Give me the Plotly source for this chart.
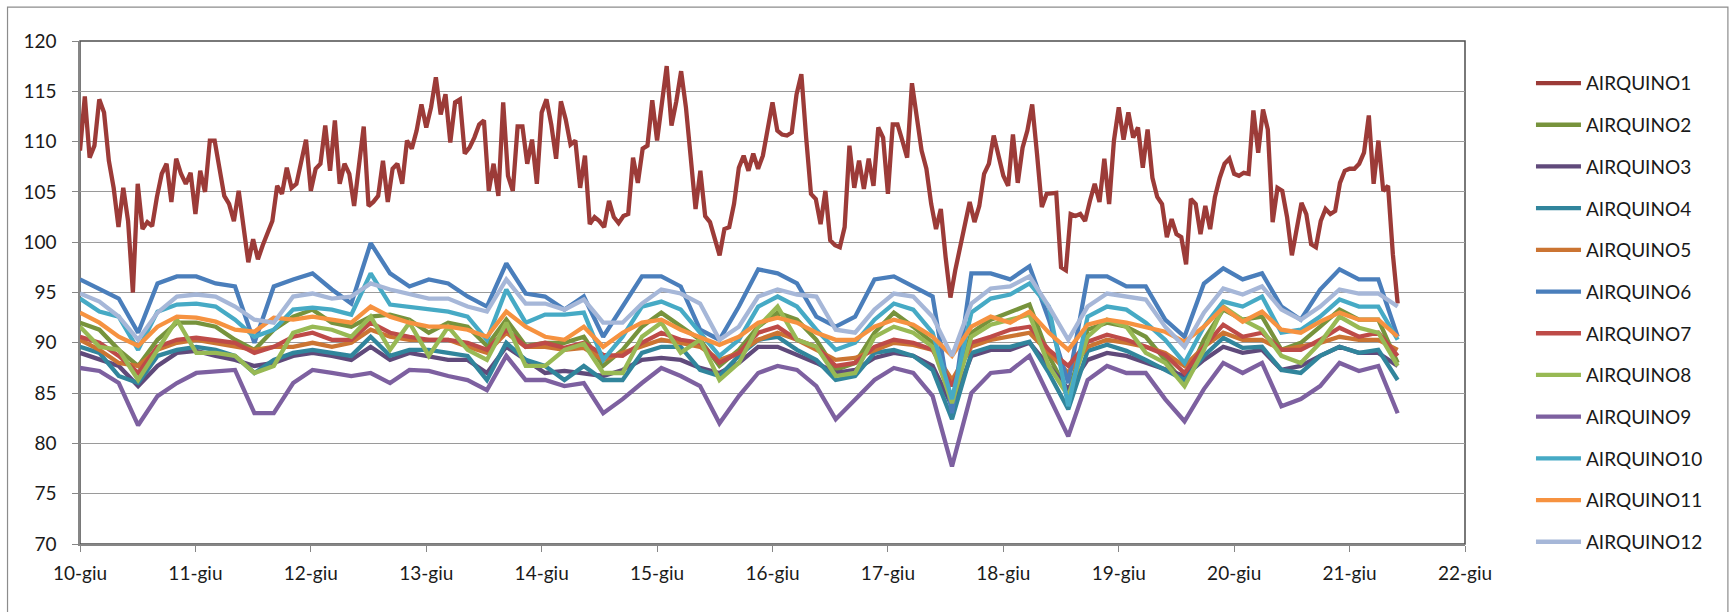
import numpy as np
import pandas as pd
import plotly.graph_objects as go

# ---------------- data ----------------
start = pd.Timestamp("2013-06-10 00:00")

tick_dates = ["2013-06-10", "2013-06-11", "2013-06-12", "2013-06-13", "2013-06-14",
              "2013-06-15", "2013-06-16", "2013-06-17", "2013-06-18", "2013-06-19",
              "2013-06-20", "2013-06-21", "2013-06-22"]
tick_labels = ["10-giu", "11-giu", "12-giu", "13-giu", "14-giu", "15-giu", "16-giu",
               "17-giu", "18-giu", "19-giu", "20-giu", "21-giu", "22-giu"]

# AIRQUINO1: hourly readings
airquino1 = [
    109.1, 114.5, 108.4, 109.6, 114.2, 112.9, 108.1, 105.4, 101.5, 105.4,
    102.1, 95.0, 105.8, 101.3, 102.0, 101.6, 104.5, 106.8, 107.8, 104.0,
    108.3, 106.8, 105.8, 106.9, 102.8, 107.1, 105.0, 110.1, 110.1, 107.4,
    104.6, 103.8, 102.1, 105.1, 101.5, 98.0, 100.3, 98.3, 99.7, 100.8,
    102.1, 105.6, 104.8, 107.4, 105.4, 105.8, 107.8, 110.2, 105.1, 107.3,
    107.8, 111.6, 107.1, 112.1, 105.8, 107.8, 106.8, 103.6, 107.6, 111.5,
    103.6, 104.0, 104.6, 108.1, 104.0, 107.3, 107.8, 105.8, 110.1, 109.3,
    111.1, 113.7,
    111.4, 113.4, 116.4, 112.7, 114.7, 109.9, 113.9, 114.2, 108.8, 109.4,
    110.4, 111.7, 112.1, 105.1, 107.8, 104.6, 113.9, 106.6, 105.1, 111.5,
    111.5, 107.8, 110.2, 105.8, 112.9, 114.2, 111.7, 108.3, 114.0, 112.2,
    109.7, 110.1, 105.4, 108.6, 101.8, 102.5, 102.1, 101.5, 104.1, 102.5,
    101.9, 102.6, 102.8, 108.4, 105.9, 109.3, 109.6, 114.1, 110.1, 113.7,
    117.5, 111.6, 114.0, 117.0, 113.4, 108.4, 103.3, 107.1, 102.6, 102.0,
    100.2, 98.7, 101.3, 101.5, 103.8, 107.4, 108.6, 107.1, 108.8, 107.3,
    108.6, 111.1, 113.9, 111.1,
    110.7, 110.6, 110.9, 114.7, 116.7, 110.4, 104.8, 104.3, 101.8, 105.1,
    100.2, 99.7, 99.5, 101.5, 109.6, 105.4, 108.1, 105.3, 108.3, 105.6,
    111.4, 110.4, 104.8, 111.7, 111.7, 110.1, 108.4, 115.8, 112.1, 109.1,
    107.3, 103.8, 101.3, 103.3, 98.5, 94.5, 97.2, 99.5, 101.5, 104.0,
    102.0, 103.6, 106.8, 107.8, 110.6, 108.4, 106.6, 105.6, 110.7, 105.9,
    109.4, 111.1, 113.7, 108.8, 103.5, 104.8, 104.8, 104.9, 97.5, 97.2,
    102.8, 102.6, 102.8, 102.1, 104.1, 105.8, 104.0, 108.3, 103.8, 110.1,
    113.4, 110.2, 112.9,
    110.4, 111.4, 107.4, 111.2, 106.4, 104.5, 103.8, 100.5, 102.3, 100.8,
    100.5, 97.8, 104.3, 103.8, 100.8, 103.6, 101.3, 104.5, 106.4, 107.8,
    108.3, 106.8, 106.6, 106.9, 106.8, 113.1, 108.9, 113.2, 111.2, 102.0,
    105.4, 105.1, 102.5, 98.7, 101.5, 103.9, 102.8, 99.8, 99.5, 102.1,
    103.3, 102.8, 103.1, 105.9, 107.1, 107.3, 107.3, 107.8, 108.9, 112.6,
    105.8, 110.1, 105.1, 105.6, 98.8, 93.9,
]

# AIRQUINO2..12: readings about every 4 hours over the same span
airquino2 = [92.0, 91.3, 89.3, 87.7, 90.3, 92.0, 92.0, 91.6, 90.3, 89.3, 91.3, 92.6, 93.3, 92.0, 91.6, 92.6, 92.8, 92.3, 91.0, 92.0, 91.6, 89.7, 92.3, 89.7,
             90.0, 90.0, 90.6, 87.7, 89.3, 91.6, 93.0, 91.6, 90.3, 87.7, 89.3, 91.6, 93.0, 92.3, 90.3, 87.3, 88.0, 91.0, 93.0, 91.6, 90.0, 84.4, 91.0,
             92.3, 93.0, 93.8, 88.7, 85.0, 91.3, 92.0, 91.6, 90.6, 88.3, 86.0, 90.3, 93.3, 92.3, 92.6, 89.3, 90.0, 91.6, 93.3, 92.3, 92.3, 88.0]
airquino3 = [89.0, 88.3, 87.7, 85.7, 87.7, 89.0, 89.2, 88.7, 88.3, 87.7, 88.0, 88.7, 89.0, 88.7, 88.3, 89.6, 88.3, 89.0, 88.7, 88.3, 88.3, 87.0, 89.6, 88.3,
             87.0, 87.2, 87.0, 86.7, 87.3, 88.3, 88.5, 88.3, 87.5, 87.0, 88.0, 89.6, 89.6, 88.8, 88.0, 87.0, 87.3, 88.5, 89.0, 88.7, 87.7, 83.7, 88.7,
             89.3, 89.3, 90.0, 87.7, 85.4, 88.3, 89.0, 88.7, 88.0, 87.3, 86.7, 88.3, 89.6, 89.0, 89.3, 87.3, 87.7, 88.7, 89.6, 89.0, 89.0, 87.7]
airquino4 = [89.6, 89.0, 86.7, 86.0, 88.7, 89.3, 89.6, 89.3, 88.7, 87.0, 88.3, 89.0, 89.3, 89.0, 88.7, 90.6, 88.7, 89.3, 89.3, 89.0, 88.7, 86.3, 90.0, 88.3,
             87.7, 86.3, 87.7, 86.3, 86.3, 89.0, 89.6, 89.6, 87.3, 86.7, 88.7, 90.3, 90.6, 89.3, 88.3, 86.3, 86.7, 89.0, 89.3, 88.7, 87.3, 82.4, 89.0,
             89.6, 89.6, 90.1, 87.0, 83.4, 89.2, 89.8, 89.2, 88.3, 87.3, 86.3, 88.7, 90.5, 89.5, 89.6, 87.3, 87.0, 88.7, 89.6, 89.0, 89.3, 86.3]
airquino5 = [90.3, 89.3, 88.0, 87.7, 89.3, 90.0, 90.3, 90.0, 89.6, 89.3, 89.6, 89.6, 90.0, 89.6, 90.0, 91.3, 90.6, 90.3, 90.3, 90.3, 89.6, 89.0, 91.0, 89.6,
             89.6, 89.3, 89.5, 88.3, 89.0, 89.6, 90.3, 90.0, 89.6, 88.3, 89.0, 90.3, 91.0, 90.3, 89.3, 88.3, 88.5, 89.3, 90.0, 89.8, 89.3, 86.3, 89.6,
             90.3, 90.6, 91.0, 89.0, 87.0, 89.6, 90.3, 90.0, 89.6, 89.0, 87.7, 89.6, 91.0, 90.3, 90.3, 89.3, 89.6, 90.0, 90.6, 90.3, 90.3, 89.3]
airquino6 = [96.3, 95.3, 94.4, 91.0, 95.9, 96.6, 96.6, 95.9, 95.6, 90.0, 95.6, 96.3, 96.9, 95.3, 93.9, 99.9, 96.9, 95.6, 96.3, 95.9, 94.6, 93.6, 97.9, 94.9,
             94.6, 93.3, 94.6, 90.6, 93.6, 96.6, 96.6, 95.6, 91.3, 90.3, 93.6, 97.3, 96.9, 95.9, 92.6, 91.6, 92.6, 96.3, 96.6, 95.6, 94.6, 83.0, 96.9,
             96.9, 96.3, 97.6, 92.3, 86.0, 96.6, 96.6, 95.6, 95.6, 92.3, 90.6, 95.9, 97.4, 96.3, 96.9, 93.6, 92.3, 95.3, 97.3, 96.3, 96.3, 90.6]
airquino7 = [90.6, 90.0, 88.7, 87.0, 89.6, 90.3, 90.5, 90.3, 90.0, 89.0, 89.6, 90.6, 91.0, 90.3, 90.3, 92.0, 91.0, 90.6, 90.3, 90.3, 90.0, 89.3, 91.3, 89.6,
             90.0, 89.5, 90.0, 88.8, 88.7, 90.0, 91.0, 90.3, 90.0, 88.0, 89.0, 91.0, 91.6, 90.3, 89.6, 87.7, 88.0, 89.6, 90.3, 90.0, 89.3, 85.7, 90.0,
             90.6, 91.3, 91.6, 89.3, 87.7, 90.1, 90.8, 90.3, 89.6, 88.8, 87.0, 89.6, 91.8, 90.6, 91.0, 89.3, 89.3, 90.3, 91.5, 90.6, 91.0, 88.7]
airquino8 = [91.6, 89.6, 89.3, 86.3, 89.3, 92.3, 89.0, 89.0, 88.7, 87.0, 87.7, 91.0, 91.6, 91.3, 90.6, 92.6, 89.3, 92.0, 88.7, 91.6, 89.3, 88.3, 92.0, 87.7,
             87.7, 89.3, 89.9, 87.0, 87.0, 90.6, 92.0, 89.0, 90.3, 86.3, 88.0, 91.6, 93.6, 90.3, 89.6, 86.7, 87.0, 90.6, 91.6, 91.0, 89.6, 84.0, 90.6,
             91.8, 92.3, 92.8, 87.7, 84.7, 90.6, 92.3, 91.6, 89.0, 88.0, 85.7, 89.3, 93.6, 92.3, 91.3, 88.7, 88.0, 90.0, 92.6, 91.5, 91.0, 87.7]
airquino9 = [87.5, 87.2, 86.0, 81.8, 84.7, 86.0, 87.0, 87.2, 87.3, 83.0, 83.0, 86.0, 87.3, 87.0, 86.7, 87.0, 86.0, 87.3, 87.2, 86.7, 86.3, 85.3, 88.7, 86.3,
             86.3, 85.7, 86.0, 83.0, 84.4, 86.0, 87.5, 86.7, 85.7, 82.0, 84.7, 87.0, 87.7, 87.3, 85.7, 82.4, 84.4, 86.3, 87.5, 87.0, 84.7, 77.7, 85.0,
             87.0, 87.2, 88.7, 84.7, 80.7, 86.3, 87.7, 87.0, 87.0, 84.4, 82.2, 85.4, 88.0, 87.0, 88.0, 83.7, 84.4, 85.7, 88.0, 87.2, 87.7, 83.0]
airquino10 = [94.4, 93.1, 92.6, 89.3, 93.1, 93.8, 93.9, 93.6, 92.3, 90.6, 91.3, 93.3, 93.5, 93.3, 92.8, 96.9, 93.8, 93.6, 93.3, 93.1, 92.6, 90.3, 95.3, 92.0,
              92.8, 92.8, 93.0, 88.3, 90.6, 93.6, 94.1, 93.3, 91.0, 88.7, 90.3, 93.6, 94.6, 93.6, 91.3, 89.3, 90.0, 92.3, 93.9, 93.3, 91.0, 84.4, 93.0,
              94.4, 94.8, 95.9, 93.6, 83.7, 92.6, 93.6, 93.3, 92.0, 90.3, 88.0, 91.6, 94.1, 93.6, 94.6, 91.0, 91.3, 92.6, 94.3, 93.6, 93.6, 90.3]
airquino11 = [93.0, 92.0, 90.6, 89.7, 91.6, 92.6, 92.5, 92.1, 91.3, 91.1, 92.5, 92.3, 92.6, 92.3, 92.0, 93.6, 92.6, 92.0, 91.6, 91.6, 91.3, 90.6, 93.1, 91.6,
              90.6, 90.3, 91.6, 89.6, 91.0, 92.0, 92.3, 91.3, 90.6, 89.8, 90.6, 92.0, 92.5, 92.0, 91.0, 90.3, 90.3, 91.6, 92.3, 91.8, 90.6, 88.7, 91.6,
              92.6, 92.0, 93.1, 91.0, 89.3, 91.8, 92.3, 92.0, 91.5, 91.1, 90.1, 91.6, 93.5, 92.1, 93.1, 91.3, 91.0, 92.1, 93.0, 92.3, 92.3, 90.6]
airquino12 = [94.9, 94.1, 92.6, 90.3, 93.0, 94.6, 94.8, 94.6, 93.6, 92.3, 92.0, 94.6, 94.9, 94.4, 94.6, 95.9, 95.3, 94.9, 94.4, 94.4, 93.6, 93.1, 96.3, 93.9,
              93.9, 93.3, 94.3, 92.0, 92.0, 93.9, 95.3, 94.9, 93.9, 90.3, 91.6, 94.6, 95.3, 94.8, 94.6, 91.3, 91.0, 93.3, 94.9, 94.6, 92.6, 88.7, 93.9,
              95.4, 95.6, 96.6, 93.6, 90.3, 93.6, 94.9, 94.6, 94.3, 91.6, 89.6, 93.0, 95.4, 94.8, 95.6, 93.3, 92.3, 93.6, 95.3, 94.9, 94.9, 93.6]

series_names = ["AIRQUINO1", "AIRQUINO2", "AIRQUINO3", "AIRQUINO4", "AIRQUINO5", "AIRQUINO6",
                "AIRQUINO7", "AIRQUINO8", "AIRQUINO9", "AIRQUINO10", "AIRQUINO11", "AIRQUINO12"]
series_values = [airquino1, airquino2, airquino3, airquino4, airquino5, airquino6,
                 airquino7, airquino8, airquino9, airquino10, airquino11, airquino12]
series_colors = ["#9C3B38", "#77933C", "#604A7B", "#31859C", "#CB7432", "#4A7EBB",
                 "#BE4B48", "#98B954", "#7D60A0", "#46AAC5", "#F69240", "#A6B7D8"]

span_hours = 274  # last reading: 21-giu ~10:00

# ---------------- figure ----------------
W, H = 1731, 612
L, R, T, B = 79.5, 1465.0, 40.8, 544.0  # plot area in pixels

fig = go.Figure()
for name, vals, col in zip(series_names, series_values, series_colors):
    n = len(vals)
    hrs = np.linspace(0, span_hours, n)
    xs = start + pd.to_timedelta(hrs, unit="h")
    fig.add_trace(go.Scatter(
        x=xs, y=vals, mode="lines", name=name, legendgroup=name,
        line=dict(color=col, width=4.3),
    ))

def px_x(p):
    return (p - L) / (R - L)

def px_y(p):
    return (B - p) / (B - T)

shapes = [
    # plot area frame
    dict(type="rect", xref="paper", yref="paper", x0=0, x1=1, y0=0, y1=1,
         line=dict(color="#4d4d4d", width=1.5), layer="below"),
    # chart area frame
    dict(type="rect", xref="paper", yref="paper",
         x0=px_x(7), x1=px_x(1728), y0=px_y(625), y1=px_y(7),
         line=dict(color="#8c8c8c", width=1.2), layer="below"),
]

font_family = "Lato, 'Open Sans', sans-serif"

fig.update_layout(
    width=W, height=H,
    margin=dict(l=L, r=W - R, t=T, b=H - B, pad=0),
    paper_bgcolor="white", plot_bgcolor="white",
    font=dict(family=font_family, size=19, color="#1a1a1a"),
    showlegend=True,
    legend=dict(
        x=px_x(1531), y=px_y(64), xanchor="left", yanchor="top",
        font=dict(family=font_family, size=19, color="#1a1a1a"),
        tracegroupgap=14, itemwidth=45, bgcolor="rgba(0,0,0,0)",
        maxheight=1.0,
    ),
    shapes=shapes,
    xaxis=dict(
        type="date",
        range=[tick_dates[0], tick_dates[-1]],
        tickvals=tick_dates, ticktext=tick_labels,
        showgrid=False, zeroline=False,
        showline=True, linecolor="#868686", linewidth=1.5,
        ticks="outside", ticklen=6, tickcolor="#868686", tickwidth=1.2,
        ticklabelstandoff=5,
        tickfont=dict(family=font_family, size=19, color="#1a1a1a"),
    ),
    yaxis=dict(
        range=[70, 120], dtick=5, tick0=70,
        showgrid=True, gridcolor="#9a9a9a", gridwidth=1.4,
        zeroline=False,
        showline=True, linecolor="#868686", linewidth=1.5,
        ticks="outside", ticklen=6, tickcolor="#868686", tickwidth=1.2,
        ticklabelstandoff=12,
        tickfont=dict(family=font_family, size=19, color="#1a1a1a"),
    ),
)

fig.write_html("out.html")
